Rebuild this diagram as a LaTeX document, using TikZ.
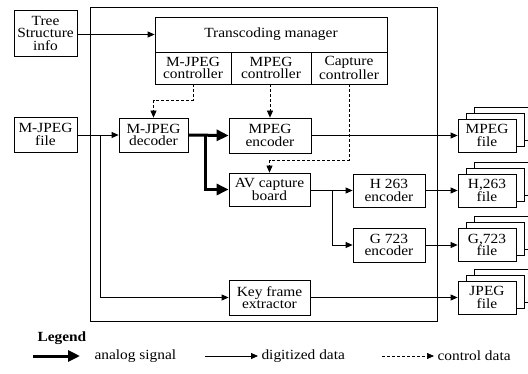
\documentclass[tikz,border=0pt]{standalone}
\usepackage{fontspec}
\setmainfont{Liberation Serif}[FakeStretch=1.1]
\usetikzlibrary{arrows.meta}
\tikzset{
  box/.style={draw, line width=0.8pt, align=center, inner sep=0pt, fill=white},
  dat/.style={line width=0.8pt, -{Triangle[length=7pt,width=6pt]}},
  ctl/.style={line width=0.7pt, dash pattern=on 3pt off 2pt, -{Triangle[length=7pt,width=6pt]}},
  ana/.style={line width=3pt, -{Triangle[length=12pt,width=11pt]}},
  txt/.style={font=\fontsize{14}{12.5}\selectfont}
}
\newcommand\filestack[3]{%
  \draw[line width=0.8pt, fill=white] (474,#2-12) rectangle ++(58,33);
  \draw[line width=0.8pt, fill=white] (466,#2-6) rectangle ++(58,33);
  \node[box, minimum width=58pt, minimum height=33pt] (#1) at (487,#2+16.5) {#3};
}
\begin{document}
\begin{tikzpicture}[x=1pt,y=-1pt, font=\fontsize{14}{12.5}\selectfont]
\path[use as bounding box] (0,0) rectangle (528,373);
% frame
\draw[line width=1pt] (90,7) rectangle (437,321);
% nodes
\node[box, minimum width=63pt, minimum height=46pt] (tree) at (45.5,33) {Tree\\Structure\\info};
\node[box, minimum width=232pt, minimum height=35pt] (mgr) at (271,34.5) {Transcoding manager};
\node[box, minimum width=76pt, minimum height=32pt] (c1) at (193,68) {M-JPEG\\controller};
\node[box, minimum width=80pt, minimum height=32pt] (c2) at (271,68) {MPEG\\controller};
\node[box, minimum width=76pt, minimum height=32pt] (c3) at (349,68) {Capture\\controller};
\node[box, minimum width=63pt, minimum height=35pt] (mjf) at (45.5,134.5) {M-JPEG\\file};
\node[box, minimum width=69pt, minimum height=34pt] (dec) at (153.5,135) {M-JPEG\\decoder};
\node[box, minimum width=82pt, minimum height=35pt] (menc) at (270,135.5) {MPEG\\encoder};
\node[box, minimum width=81pt, minimum height=33pt] (av) at (269.5,189.5) {AV capture\\board};
\node[box, minimum width=72pt, minimum height=33pt] (h263) at (389,190.5) {H 263\\encoder};
\node[box, minimum width=72pt, minimum height=34pt] (g723) at (389,245) {G 723\\encoder};
\node[box, minimum width=81pt, minimum height=35pt] (key) at (269.5,297.5) {Key frame\\extractor};
\filestack{mf}{119}{MPEG\\file}
\filestack{hf}{174}{H,263\\file}
\filestack{gf}{228.5}{G,723\\file}
\filestack{jf}{281}{JPEG\\file}
% digitized data
\draw[dat] (tree.east |- mgr.west) -- (mgr.west);
\draw[dat] (mjf.east |- dec.west) -- (dec.west);
\coordinate (br1) at (100,135);
\draw[dat] (br1) |- (key.west);
\draw[dat] (menc.east) -- (mf.west);
\draw[dat] (av.east |- h263.west) -- (h263.west);
\coordinate (br2) at (332,190.5);
\draw[dat] (br2) |- (g723.west);
\draw[dat] (h263.east) -- (hf.west);
\draw[dat] (g723.east) -- (gf.west);
\draw[dat] (key.east) -- (jf.west);
% analog
\draw[ana] (dec.east) -- (menc.west);
\coordinate (br3) at (205,135);
\draw[ana] (br3) |- (av.west);
% control
\draw[ctl] (c1.south) -- ++(0,16) -| (dec.north);
\draw[ctl] (c2.south -| menc.north) -- (menc.north);
\draw[ctl] (c3.south) -- ++(0,76) -| (av.north);
% legend
\node[anchor=west, font=\fontsize{14}{14}\selectfont\bfseries] (lg) at (34,338) {Legend};
\coordinate (l1a) at (33,356); \coordinate (l1b) at (80,356);
\draw[ana] (l1a) -- (l1b);
\node[anchor=west] (l1t) at (91,356) {analog signal};
\coordinate (l2a) at (205,356); \coordinate (l2b) at (258,356);
\draw[dat] (l2a) -- (l2b);
\node[anchor=west] (l2t) at (258,356) {digitized data};
\coordinate (l3a) at (382,356); \coordinate (l3b) at (434,356);
\draw[ctl] (l3a) -- (l3b);
\node[anchor=west] (l3t) at (434,356) {control data};
\end{tikzpicture}
\end{document}
